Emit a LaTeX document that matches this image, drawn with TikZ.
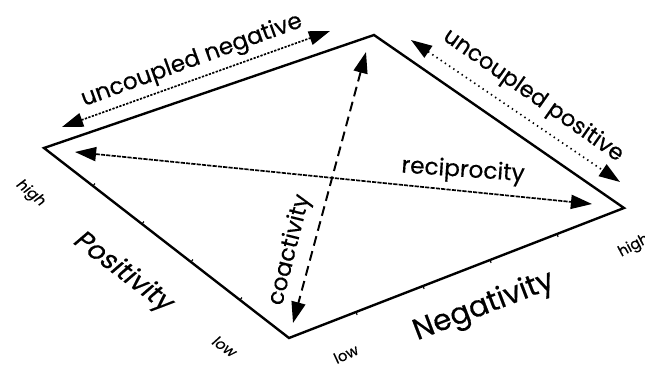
\documentclass[tikz,border=0pt]{standalone}
\usepackage{fontspec}
\setmainfont{Poppins}[FakeBold=0.4]
\newfontfamily\slantfont{Poppins}[FakeSlant=0.22,FakeBold=0.4]
\usetikzlibrary{arrows.meta,calc}

\begin{document}
\begin{tikzpicture}[x=0.025cm, y=-0.025cm,
  edge/.style={line width=1.7pt, line join=miter},
  tick/.style={line width=0.8pt},
  twoTip/.style={{Triangle[length=15pt,width=10pt]}-{Triangle[length=15pt,width=10pt]}, line width=1.2pt},
  lbl/.style={inner sep=0pt, font=\fontsize{16.5}{19}\selectfont},
  axisLbl/.style={inner sep=0pt, font=\fontsize{21}{24}\selectfont},
  endLbl/.style={inner sep=0pt, font=\slantfont\fontsize{10.5}{12}\selectfont}]
\useasboundingbox (0,0) rectangle (645,368);
% corners of the diamond
\coordinate (L) at (44,148);
\coordinate (T) at (374,35);
\coordinate (R) at (624,208);
\coordinate (B) at (289,338);
\draw[edge] (L) -- (T) -- (R) -- (B) -- cycle;
\foreach \f in {0.2,0.4,0.6,0.8} {
  \draw[tick] ($(L)!\f!(B)$) -- ($(L)!\f!(B)!2.2pt!90:(B)$);
  \draw[tick] ($(B)!\f!(R)$) -- ($(B)!\f!(R)!2.2pt!-90:(R)$);
}
% arrow ends
\coordinate (recL) at (75,152);
\coordinate (recR) at (592,204);
\coordinate (coaT) at (366,52);
\coordinate (coaB) at (293,323);
\coordinate (negL) at (62,127);
\coordinate (negR) at (330,31);
\coordinate (posL) at (411,40);
\coordinate (posR) at (620,182);
\draw[twoTip, dash pattern=on 3pt off 0.8pt] (recL) -- (recR);
\draw[twoTip, dash pattern=on 7pt off 4pt, line width=1.4pt] (coaT) -- (coaB);
\draw[twoTip, dash pattern=on 1.6pt off 1pt] (negL) -- (negR);
\draw[twoTip, dash pattern=on 1pt off 2.6pt] (posL) -- (posR);
% labels
\node[lbl, rotate=20] (negLbl) at (192,61) {uncoupled negative};
\node[lbl, font=\fontsize{16}{19}\selectfont, rotate=-35] (posLbl) at (533,96) {uncoupled positive};
\node[lbl, rotate=-4] (recLbl) at (463,171) {reciprocity};
\node[lbl, rotate=76] (coaLbl) at (290,250) {coactivity};
\node[axisLbl, font=\slantfont\fontsize{19}{22}\selectfont, rotate=-37] (posAxis) at (122,272) {Positivity};
\node[axisLbl, rotate=21] (negAxis) at (484,307) {Negativity};
\node[endLbl, rotate=-40] (posHigh) at (30,193) {high};
\node[endLbl, rotate=-35] (posLow) at (224,346) {low};
\node[endLbl, font=\fontsize{10.5}{12}\selectfont, rotate=25] (negLow) at (346,354) {low};
\node[endLbl, font=\fontsize{10.5}{12}\selectfont, rotate=28] (negHigh) at (634,246) {high};
\end{tikzpicture}
\end{document}
